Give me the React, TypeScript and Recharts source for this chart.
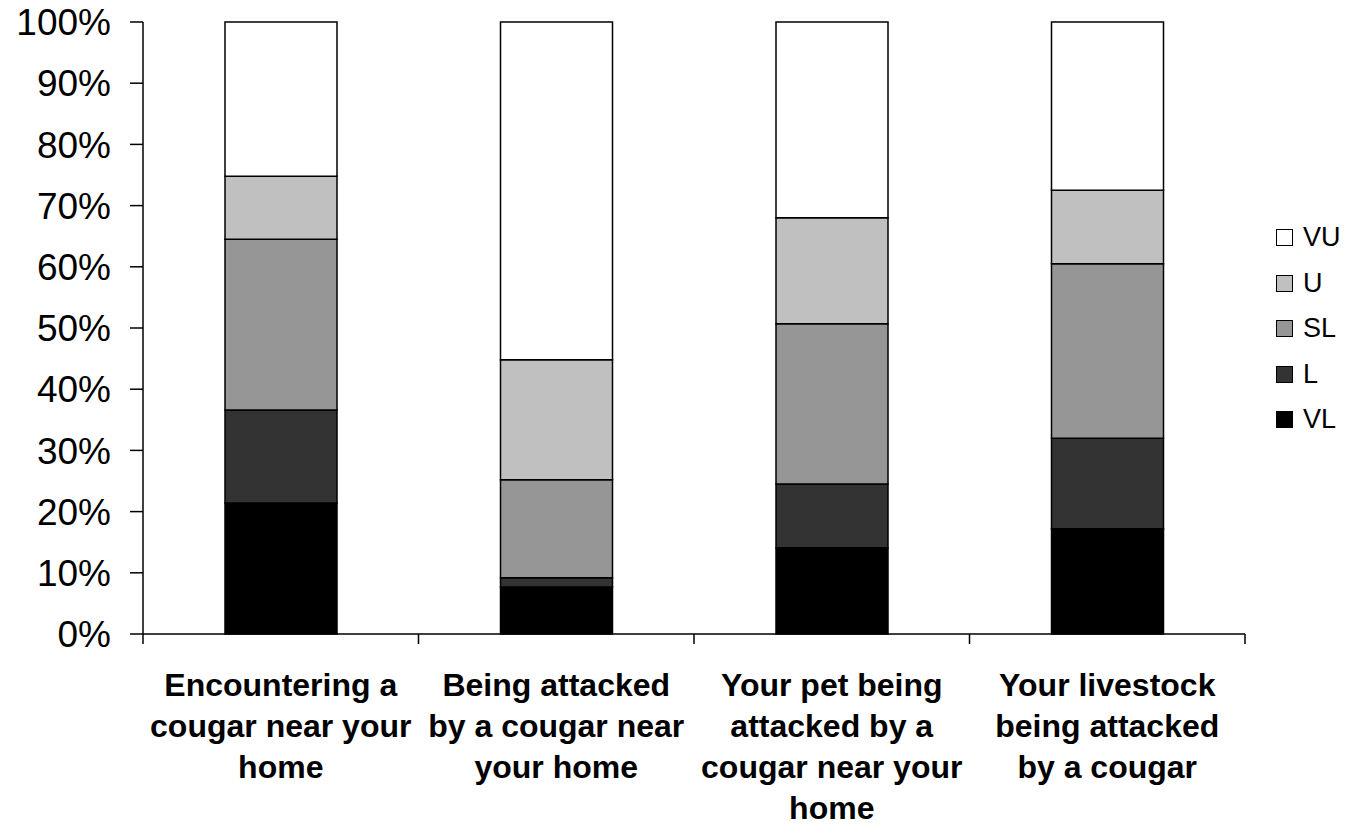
import React from "react";
import { Bar, BarChart, Legend, XAxis, YAxis } from "recharts";

// categories (line breaks follow the original label wrapping)
const categories = [
  "Encountering a\ncougar near your\nhome",
  "Being attacked\nby a cougar near\nyour home",
  "Your pet being\nattacked by a\ncougar near your\nhome",
  "Your livestock\nbeing attacked\nby a cougar",
];

// share of answers per category, %
const vl = [21.4, 7.7, 14.1, 17.2];
const l = [15.2, 1.5, 10.4, 14.8];
const sl = [27.9, 16.0, 26.2, 28.5];
const u = [10.3, 19.6, 17.3, 12.0];
const vu = [25.2, 55.2, 32.0, 27.5];

const yTicks = [0, 10, 20, 30, 40, 50, 60, 70, 80, 90, 100];

const series = [
  { key: "VL", fill: "#000000" },
  { key: "L", fill: "#333333" },
  { key: "SL", fill: "#969696" },
  { key: "U", fill: "#c0c0c0" },
  { key: "VU", fill: "#ffffff" },
];

const data = categories.map((name, i) => ({
  name,
  VL: vl[i],
  L: l[i],
  SL: sl[i],
  U: u[i],
  VU: vu[i],
}));

const FONT = "'Liberation Sans', Arial, sans-serif";
const CHART_W = 1351;
const CHART_H = 825;
const margin = { top: 22, right: 106, bottom: 0, left: 0 };
const Y_AXIS_W = 143;
const band = (CHART_W - margin.left - margin.right - Y_AXIS_W) / categories.length;

// Excel-style: tick marks sit between categories, label under the band centre
function CategoryTick({ x, y, payload, index }: any) {
  const lines = String(payload.value).split("\n");
  const last = index === categories.length - 1;
  return (
    <g>
      <line x1={x - band / 2} x2={x - band / 2} y1={y} y2={y + 10} stroke="#000" strokeWidth={1.5} />
      {last ? (
        <line x1={x + band / 2} x2={x + band / 2} y1={y} y2={y + 10} stroke="#000" strokeWidth={1.5} />
      ) : null}
      <text
        x={x}
        y={y}
        textAnchor="middle"
        fontFamily={FONT}
        fontWeight="bold"
        fontSize={32}
        fill="#000"
      >
        {lines.map((line, i) => (
          <tspan key={i} x={x} dy={i === 0 ? 62 : 41}>
            {line}
          </tspan>
        ))}
      </text>
    </g>
  );
}

function LegendBox() {
  const items = [...series].reverse();
  return (
    <div style={{ fontFamily: FONT, fontSize: 27, color: "#000" }}>
      {items.map((s) => (
        <div
          key={s.key}
          style={{ display: "flex", alignItems: "center", height: 45.5 }}
        >
          <span
            style={{
              width: 17,
              height: 17,
              background: s.fill,
              border: "1.5px solid #000",
              marginRight: 10,
              boxSizing: "border-box",
              display: "inline-block",
            }}
          />
          <span>{s.key}</span>
        </div>
      ))}
    </div>
  );
}

export default function App() {
  return (
    <div style={{ position: "fixed", left: 0, top: 0, background: "#fff" }}>
      <BarChart
        width={CHART_W}
        height={CHART_H}
        data={data}
        margin={margin}
        barSize={112}
      >
        <XAxis
          dataKey="name"
          height={191}
          axisLine={{ stroke: "#000", strokeWidth: 1.5 }}
          tickLine={false}
          tickSize={0}
          tickMargin={0}
          interval={0}
          tick={<CategoryTick />}
        />
        <YAxis
          width={Y_AXIS_W}
          domain={[0, 100]}
          ticks={yTicks}
          tickFormatter={(v) => `${v}%`}
          tick={{ fontSize: 37, fill: "#000", fontFamily: FONT }}
          tickSize={13}
          tickMargin={19}
          axisLine={{ stroke: "#000", strokeWidth: 1.5 }}
          tickLine={{ stroke: "#000", strokeWidth: 1.5 }}
        />
        <Legend
          layout="vertical"
          align="center"
          verticalAlign="middle"
          content={<LegendBox />}
          wrapperStyle={{ left: 1276, top: 215, width: 75 }}
        />
        {series.map((s) => (
          <Bar
            key={s.key}
            dataKey={s.key}
            stackId="a"
            fill={s.fill}
            stroke="#000"
            strokeWidth={1.5}
            isAnimationActive={false}
          />
        ))}
      </BarChart>
    </div>
  );
}
